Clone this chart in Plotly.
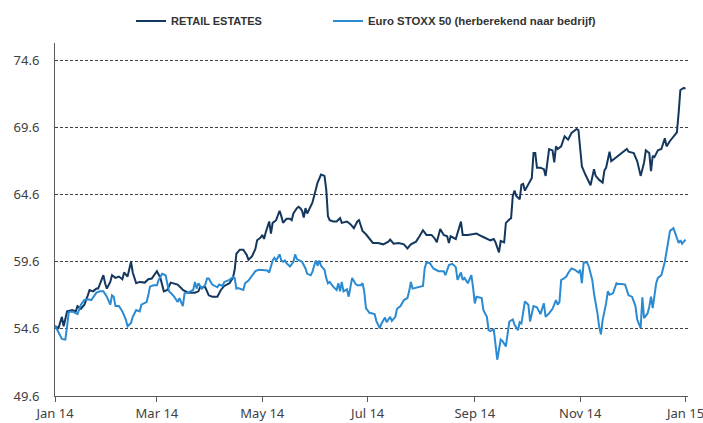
import pandas as pd
import plotly.graph_objects as go

# ---- data (day offsets from 2014-01-01, values) ----
re_days = [0, 2, 4, 5, 7, 10, 12, 13, 15, 17,
           19, 20, 22, 24, 25, 27, 28, 29, 30, 32,
           33, 35, 37, 39, 40, 42, 44, 45, 47, 49,
           52, 54, 56, 59, 61, 63, 65, 67, 69, 71,
           73, 74, 77, 81, 83, 84, 87, 89, 91, 94,
           96, 98, 101, 103, 104, 105, 107, 109, 111, 112,
           114, 116, 117, 119, 120, 121, 122, 123, 124, 125,
           126, 128, 130, 131, 132, 134, 136, 137, 138, 140,
           141, 142, 143, 144, 145, 146, 147, 149, 150, 152,
           154, 156, 157, 158, 159, 161, 163, 165, 166, 169,
           171, 173, 175, 176, 177, 178, 180, 182, 184, 187,
           190, 193, 194, 196, 199, 202, 204, 206, 209, 211,
           212, 213, 215, 218, 220, 221, 223, 225, 227, 228,
           229, 232, 235, 236, 239, 244, 247, 249, 252, 254,
           255, 257, 258, 260, 261, 263, 264, 265, 266, 267,
           269, 270, 271, 272, 274, 276, 277, 278, 279, 281,
           283, 284, 286, 288, 289, 290, 291, 293, 295, 297,
           299, 302, 303, 304, 305, 307, 309, 310, 312, 313,
           315, 317, 318, 319, 321, 322, 324, 326, 328, 331,
           332, 335, 337, 338, 339, 341, 342, 344, 345, 346,
           347, 349, 351, 353, 354, 356, 359, 360, 361, 362,
           364, 365]
re_vals = [54.8, 54.65, 55.5, 54.8, 55.9, 56.0, 55.9, 56.3, 56.1, 56.4,
           57.1, 57.5, 57.4, 57.6, 57.6, 58.3, 58.6, 58.0, 57.6, 58.1,
           58.6, 58.4, 58.5, 58.3, 58.8, 58.5, 59.6, 58.8, 58.0, 58.1,
           58.05, 58.3, 58.35, 58.9, 58.4, 57.4, 57.5, 58.05, 58.0, 57.9,
           57.65, 57.5, 57.3, 57.3, 57.4, 57.7, 57.7, 57.1, 57.0, 57.0,
           57.5, 57.8, 58.0, 58.4, 59.0, 60.2, 60.5, 60.5, 60.1, 59.75,
           60.0, 60.55, 61.2, 61.4, 61.6, 61.3, 61.8, 62.3, 62.6, 61.7,
           62.5, 62.7, 63.4, 63.0, 62.5, 62.8, 62.8, 62.7, 63.2, 63.6,
           63.7, 63.6, 63.4, 62.9, 63.6, 63.2, 63.5, 64.0, 64.5, 65.5,
           66.1, 66.0, 65.0, 63.0, 62.7, 62.6, 62.6, 62.85, 62.5, 62.6,
           62.4, 62.1, 62.6, 62.7, 62.3, 61.9, 61.65, 61.3, 61.0, 61.0,
           60.9, 61.1, 61.25, 60.95, 61.0, 60.9, 60.6, 60.9, 61.1, 61.5,
           61.75, 61.95, 61.6, 61.6, 61.3, 61.05, 62.05, 61.6, 61.5, 61.0,
           61.5, 61.3, 62.6, 61.6, 61.6, 61.7, 61.5, 61.4, 61.2, 61.3,
           61.05, 60.3, 61.15, 61.05, 62.5, 62.75, 62.85, 64.5, 64.9, 64.5,
           64.25, 65.35, 65.4, 64.9, 65.35, 65.85, 67.7, 67.7, 66.6, 66.6,
           66.5, 66.0, 68.0, 67.9, 67.0, 68.2, 68.0, 68.2, 68.95, 68.7,
           69.2, 69.5, 69.4, 68.2, 66.7, 66.1, 65.5, 65.3, 66.5, 66.0,
           65.7, 65.5, 66.4, 66.6, 67.8, 67.1, 67.3, 67.5, 67.7, 68.0,
           67.8, 67.7, 67.1, 66.6, 66.0, 67.0, 67.9, 67.7, 66.35, 67.5,
           67.4, 67.9, 68.0, 68.8, 68.2, 68.6, 69.15, 69.25, 70.7, 72.4,
           72.55, 72.5]

sx_days = [0, 2, 4, 6, 7, 8, 10, 13, 15, 17,
           19, 21, 24, 26, 28, 30, 32, 33, 34, 35,
           37, 39, 41, 42, 44, 45, 47, 49, 50, 53,
           54, 55, 57, 59, 60, 62, 64, 65, 66, 69,
           71, 72, 73, 74, 75, 77, 80, 81, 82, 83,
           85, 87, 88, 89, 91, 94, 95, 97, 98, 101,
           103, 104, 105, 106, 109, 110, 112, 114, 116, 118,
           121, 123, 124, 125, 126, 127, 128, 130, 131, 132,
           133, 134, 136, 138, 139, 140, 142, 143, 145, 146,
           148, 149, 150, 151, 152, 153, 154, 156, 157, 158,
           159, 161, 163, 164, 165, 166, 167, 169, 170, 171,
           172, 174, 175, 177, 178, 179, 180, 182, 185, 186,
           188, 189, 191, 192, 194, 195, 197, 198, 200, 202,
           204, 205, 206, 207, 210, 213, 214, 215, 217, 219,
           222, 225, 226, 228, 230, 232, 233, 235, 236, 237,
           239, 241, 242, 243, 244, 246, 247, 248, 250, 251,
           252, 254, 255, 256, 258, 259, 261, 262, 263, 265,
           266, 268, 269, 270, 272, 274, 275, 277, 279, 281,
           283, 284, 286, 288, 290, 291, 292, 293, 294, 296,
           297, 299, 301, 303, 304, 305, 306, 308, 309, 311,
           312, 314, 315, 316, 317, 319, 320, 321, 323, 325,
           326, 328, 330, 332, 334, 336, 337, 339, 340, 341,
           343, 344, 345, 346, 348, 349, 351, 353, 355, 356,
           358, 360, 361, 362, 363, 365]
sx_vals = [54.85, 54.3, 53.85, 53.8, 54.9, 55.85, 55.9, 55.7, 56.4, 56.75,
           56.8, 56.75, 57.3, 57.4, 57.4, 57.0, 56.4, 57.1, 57.0, 56.3,
           56.3, 55.9, 55.3, 54.8, 55.05, 55.5, 56.0, 55.9, 56.4, 56.6,
           57.1, 57.75, 57.85, 57.85, 58.25, 58.7, 58.6, 57.9, 57.4, 57.0,
           56.6, 56.9, 56.6, 56.3, 57.25, 57.3, 57.5, 58.1, 57.6, 58.0,
           57.6, 57.9, 58.35, 58.35, 57.9, 57.7, 57.9, 57.8, 58.1, 58.25,
           58.45, 58.4, 57.6, 57.65, 57.5, 58.0, 58.2, 58.6, 58.9, 59.0,
           59.0, 58.95, 58.8, 59.3, 59.7, 59.9, 59.7, 60.15, 59.7, 59.6,
           59.7, 59.5, 59.25, 59.6, 60.15, 59.8, 59.7, 59.6, 59.1, 58.7,
           58.6, 58.85, 59.3, 59.7, 59.3, 59.7, 59.3, 59.0, 58.4, 58.0,
           58.1, 57.75, 57.5, 58.0, 57.4, 58.1, 57.4, 57.55, 57.0, 57.8,
           58.4, 57.95, 57.85, 57.85, 58.0, 57.4, 56.15, 55.8, 55.7, 55.2,
           54.65, 55.0, 55.45, 55.1, 55.5, 55.2, 55.5, 56.1, 56.3, 56.75,
           56.9, 57.4, 58.1, 57.6, 57.7, 57.8, 59.1, 59.55, 59.5, 59.1,
           58.9, 58.9, 58.6, 59.35, 59.45, 59.2, 58.25, 58.8, 58.25, 58.4,
           58.0, 58.6, 57.7, 56.5, 57.0, 56.9, 56.9, 56.0, 55.5, 54.5,
           54.45, 54.55, 53.5, 52.3, 53.8, 53.7, 53.3, 54.2, 55.15, 55.3,
           54.9, 54.5, 55.1, 55.0, 56.65, 56.4, 55.15, 56.3, 56.2, 55.7,
           56.5, 55.5, 55.75, 56.1, 56.75, 56.4, 56.6, 58.25, 58.3, 58.5,
           58.75, 59.1, 59.0, 58.8, 59.0, 58.0, 59.55, 59.55, 59.25, 58.25,
           57.25, 55.75, 54.75, 54.2, 55.25, 56.5, 57.4, 57.15, 57.25, 58.0,
           57.95, 57.95, 57.9, 57.1, 57.0, 56.3, 55.3, 54.65, 56.95, 55.4,
           55.75, 56.25, 57.0, 56.15, 58.0, 58.4, 58.6, 59.6, 61.25, 61.9,
           62.1, 61.35, 61.0, 61.2, 60.95, 61.25]

series_names = ["RETAIL ESTATES", "Euro STOXX 50 (herberekend naar bedrijf)"]
y_ticks = [49.6, 54.6, 59.6, 64.6, 69.6, 74.6]
x_tick_dates = ["2014-01-01", "2014-03-01", "2014-05-01", "2014-07-01",
                "2014-09-01", "2014-11-01", "2015-01-01"]
x_tick_labels = ["Jan 14", "Mar 14", "May 14", "Jul 14", "Sep 14", "Nov 14", "Jan 15"]

start = pd.Timestamp("2014-01-01")
re_dates = start + pd.to_timedelta(re_days, unit="D")
sx_dates = start + pd.to_timedelta(sx_days, unit="D")

fig = go.Figure()
fig.add_trace(go.Scatter(x=re_dates, y=re_vals, mode="lines", name=series_names[0],
                         line=dict(color="#14375E", width=2), legend="legend"))
fig.add_trace(go.Scatter(x=sx_dates, y=sx_vals, mode="lines", name=series_names[1],
                         line=dict(color="#2A8AD2", width=2), legend="legend2"))

legend_font = dict(family="Liberation Sans", size=11, color="#333333", weight="bold")
fig.update_layout(
    width=703, height=423,
    margin=dict(l=55, r=15, t=43, b=27, autoexpand=False),
    paper_bgcolor="white", plot_bgcolor="white",
    font=dict(family="Noto Sans", size=13, color="#404040"),
    legend=dict(orientation="h", xref="container", x=131 / 703, xanchor="left",
                yref="container", y=1 - 21 / 423, yanchor="middle",
                font=legend_font, itemwidth=30, bgcolor="rgba(0,0,0,0)"),
    legend2=dict(orientation="h", xref="container", x=328 / 703, xanchor="left",
                 yref="container", y=1 - 21 / 423, yanchor="middle",
                 font=dict(family="Liberation Sans", size=11.4, color="#333333", weight="bold"),
                 itemwidth=30, bgcolor="rgba(0,0,0,0)"),
    showlegend=True,
)
fig.update_xaxes(
    type="date", range=["2014-01-01", "2015-01-02 10:00"],
    tickmode="array", tickvals=x_tick_dates, ticktext=x_tick_labels,
    showgrid=False, showline=True, linecolor="#595959", linewidth=1,
    ticks="outside", ticklen=5, tickcolor="#595959",
    tickfont=dict(family="Noto Sans", size=13, color="#404040"),
    zeroline=False, automargin=False, ticklabeloverflow="allow",
)
fig.update_yaxes(
    range=[49.6, 75.9], tickmode="array", tickvals=y_ticks,
    ticktext=[f"{v:.1f}" for v in y_ticks],
    showgrid=True, gridcolor="#404040", gridwidth=1, griddash="3px,2px",
    showline=True, linecolor="#595959", linewidth=1,
    ticks="", ticklabelstandoff=12, automargin=False,
    tickfont=dict(family="Noto Sans", size=13, color="#404040"),
    zeroline=False,
)

fig.write_html("out.html", config={"displayModeBar": False},
               post_script="document.body.style.margin='0px';")
